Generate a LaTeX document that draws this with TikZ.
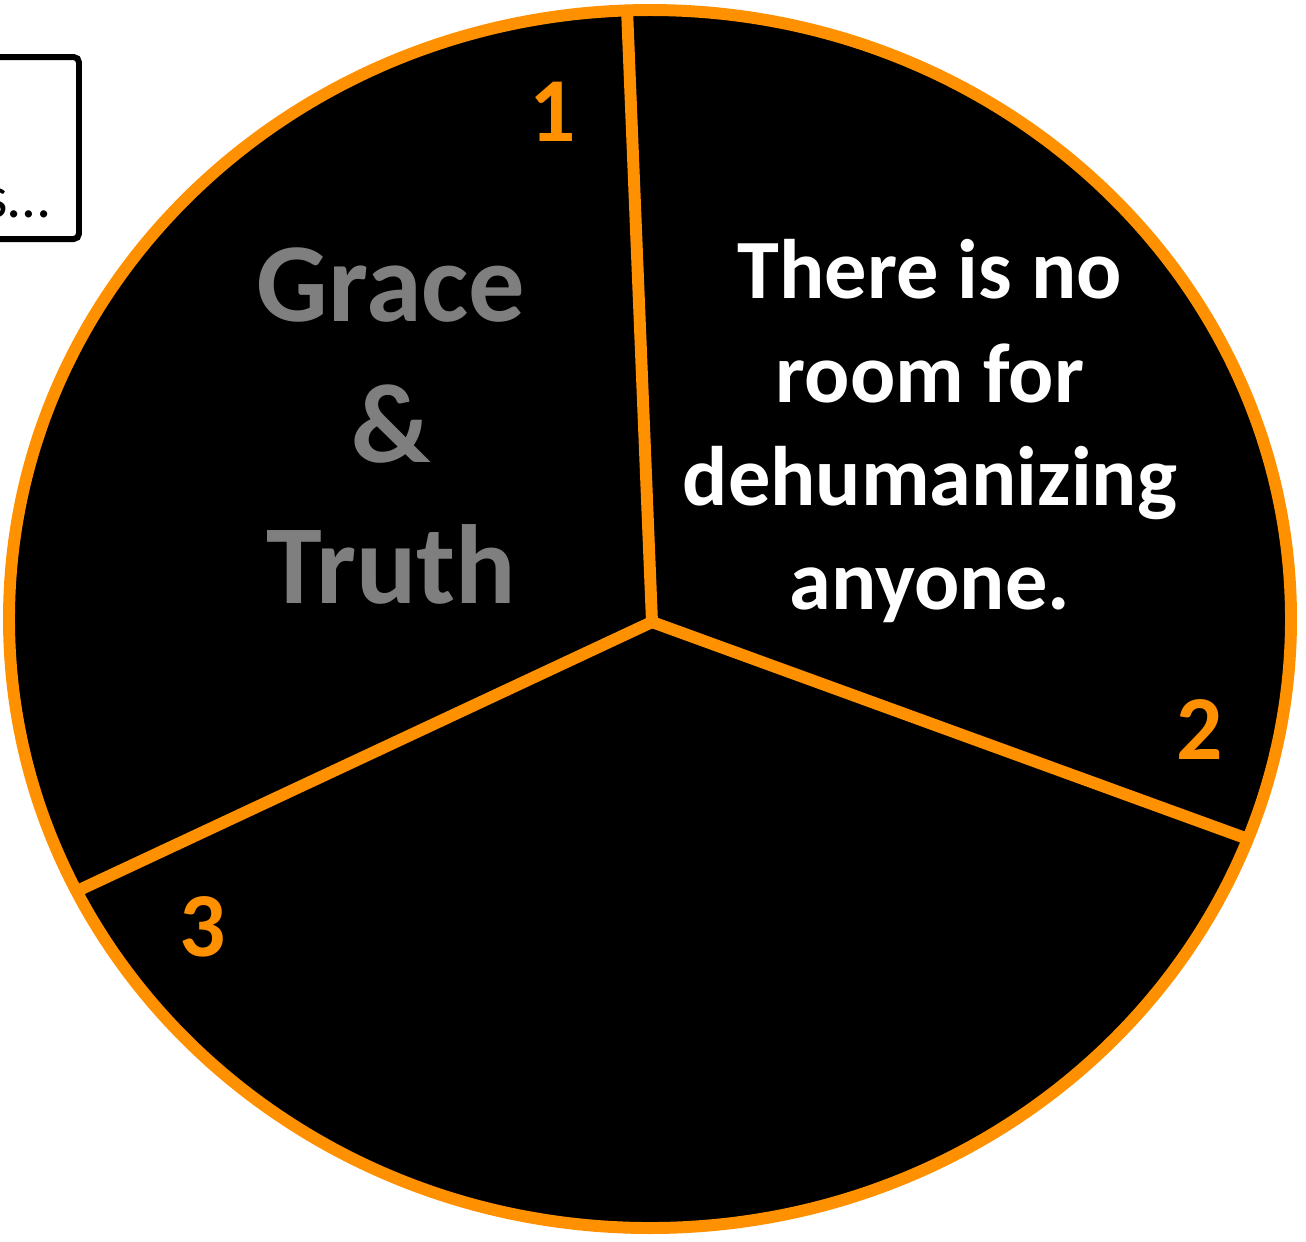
\documentclass[tikz,border=0pt]{standalone}
\usepackage{fontspec}
\setmainfont{Carlito}
\usetikzlibrary{positioning}

\definecolor{pieorange}{RGB}{255,145,0}
\definecolor{piegray}{RGB}{127,127,127}

\begin{document}
\begin{tikzpicture}[
		x=0.01cm, y=-0.01cm,
		% bord et rayons du disque
		rim/.style={
			draw=pieorange,
			line width=3.4pt
		},
		spoke/.style={
			draw=pieorange,
			line width=3.4pt,
			line join=miter
		},
		% numéros des parts
		numlabel/.style={
			text=pieorange,
			font=\fontsize{26}{31}\selectfont\bfseries
		},
		% textes des parts
		bigtext/.style={
			text=piegray,
			font=\fontsize{32}{40}\selectfont\bfseries,
			align=center
		},
		slicetext/.style={
			text=white,
			font=\fontsize{24}{29.4}\selectfont\bfseries,
			align=center
		},
		notebox/.style={
			draw=black,
			line width=1.7pt,
			rounded corners=1.5pt
		}
		]
		\useasboundingbox (0,0) rectangle (1306,1241);
		
		% --- CADRE COUPÉ EN HAUT À GAUCHE ---
		\draw[notebox] (-40,57) rectangle (79,239);
		\node[anchor=base east, font=\fontsize{17}{20}\selectfont, inner sep=0pt] (notetext) at (50,217) {s…};
		
		% --- DISQUE ---
		\fill[black] (650,619) ellipse [x radius=641, y radius=609];
		
		\coordinate (hub) at (652,622);
		\coordinate (tip1) at (627,9);
		\coordinate (tip2) at (1248,839);
		\coordinate (tip3) at (77,891);
		
		\draw[spoke] (tip1) -- (hub) -- (tip2);
		\draw[spoke] (hub) -- (tip3);
		
		\draw[rim] (650,619) ellipse [x radius=641, y radius=609];
		
		% --- NUMÉROS ---
		\node[numlabel] (n1) at (553,112) {1};
		\node[numlabel] (n2) at (1200,729) {2};
		\node[numlabel] (n3) at (203,927) {3};
		
		% --- TEXTES ---
		\node[bigtext] (grace) at (391,426) {Grace\\\&\\Truth};
		\node[slicetext] (room) at (930,431) {There is no\\room for\\dehumanizing\\anyone.};
		
	\end{tikzpicture}
\end{document}
